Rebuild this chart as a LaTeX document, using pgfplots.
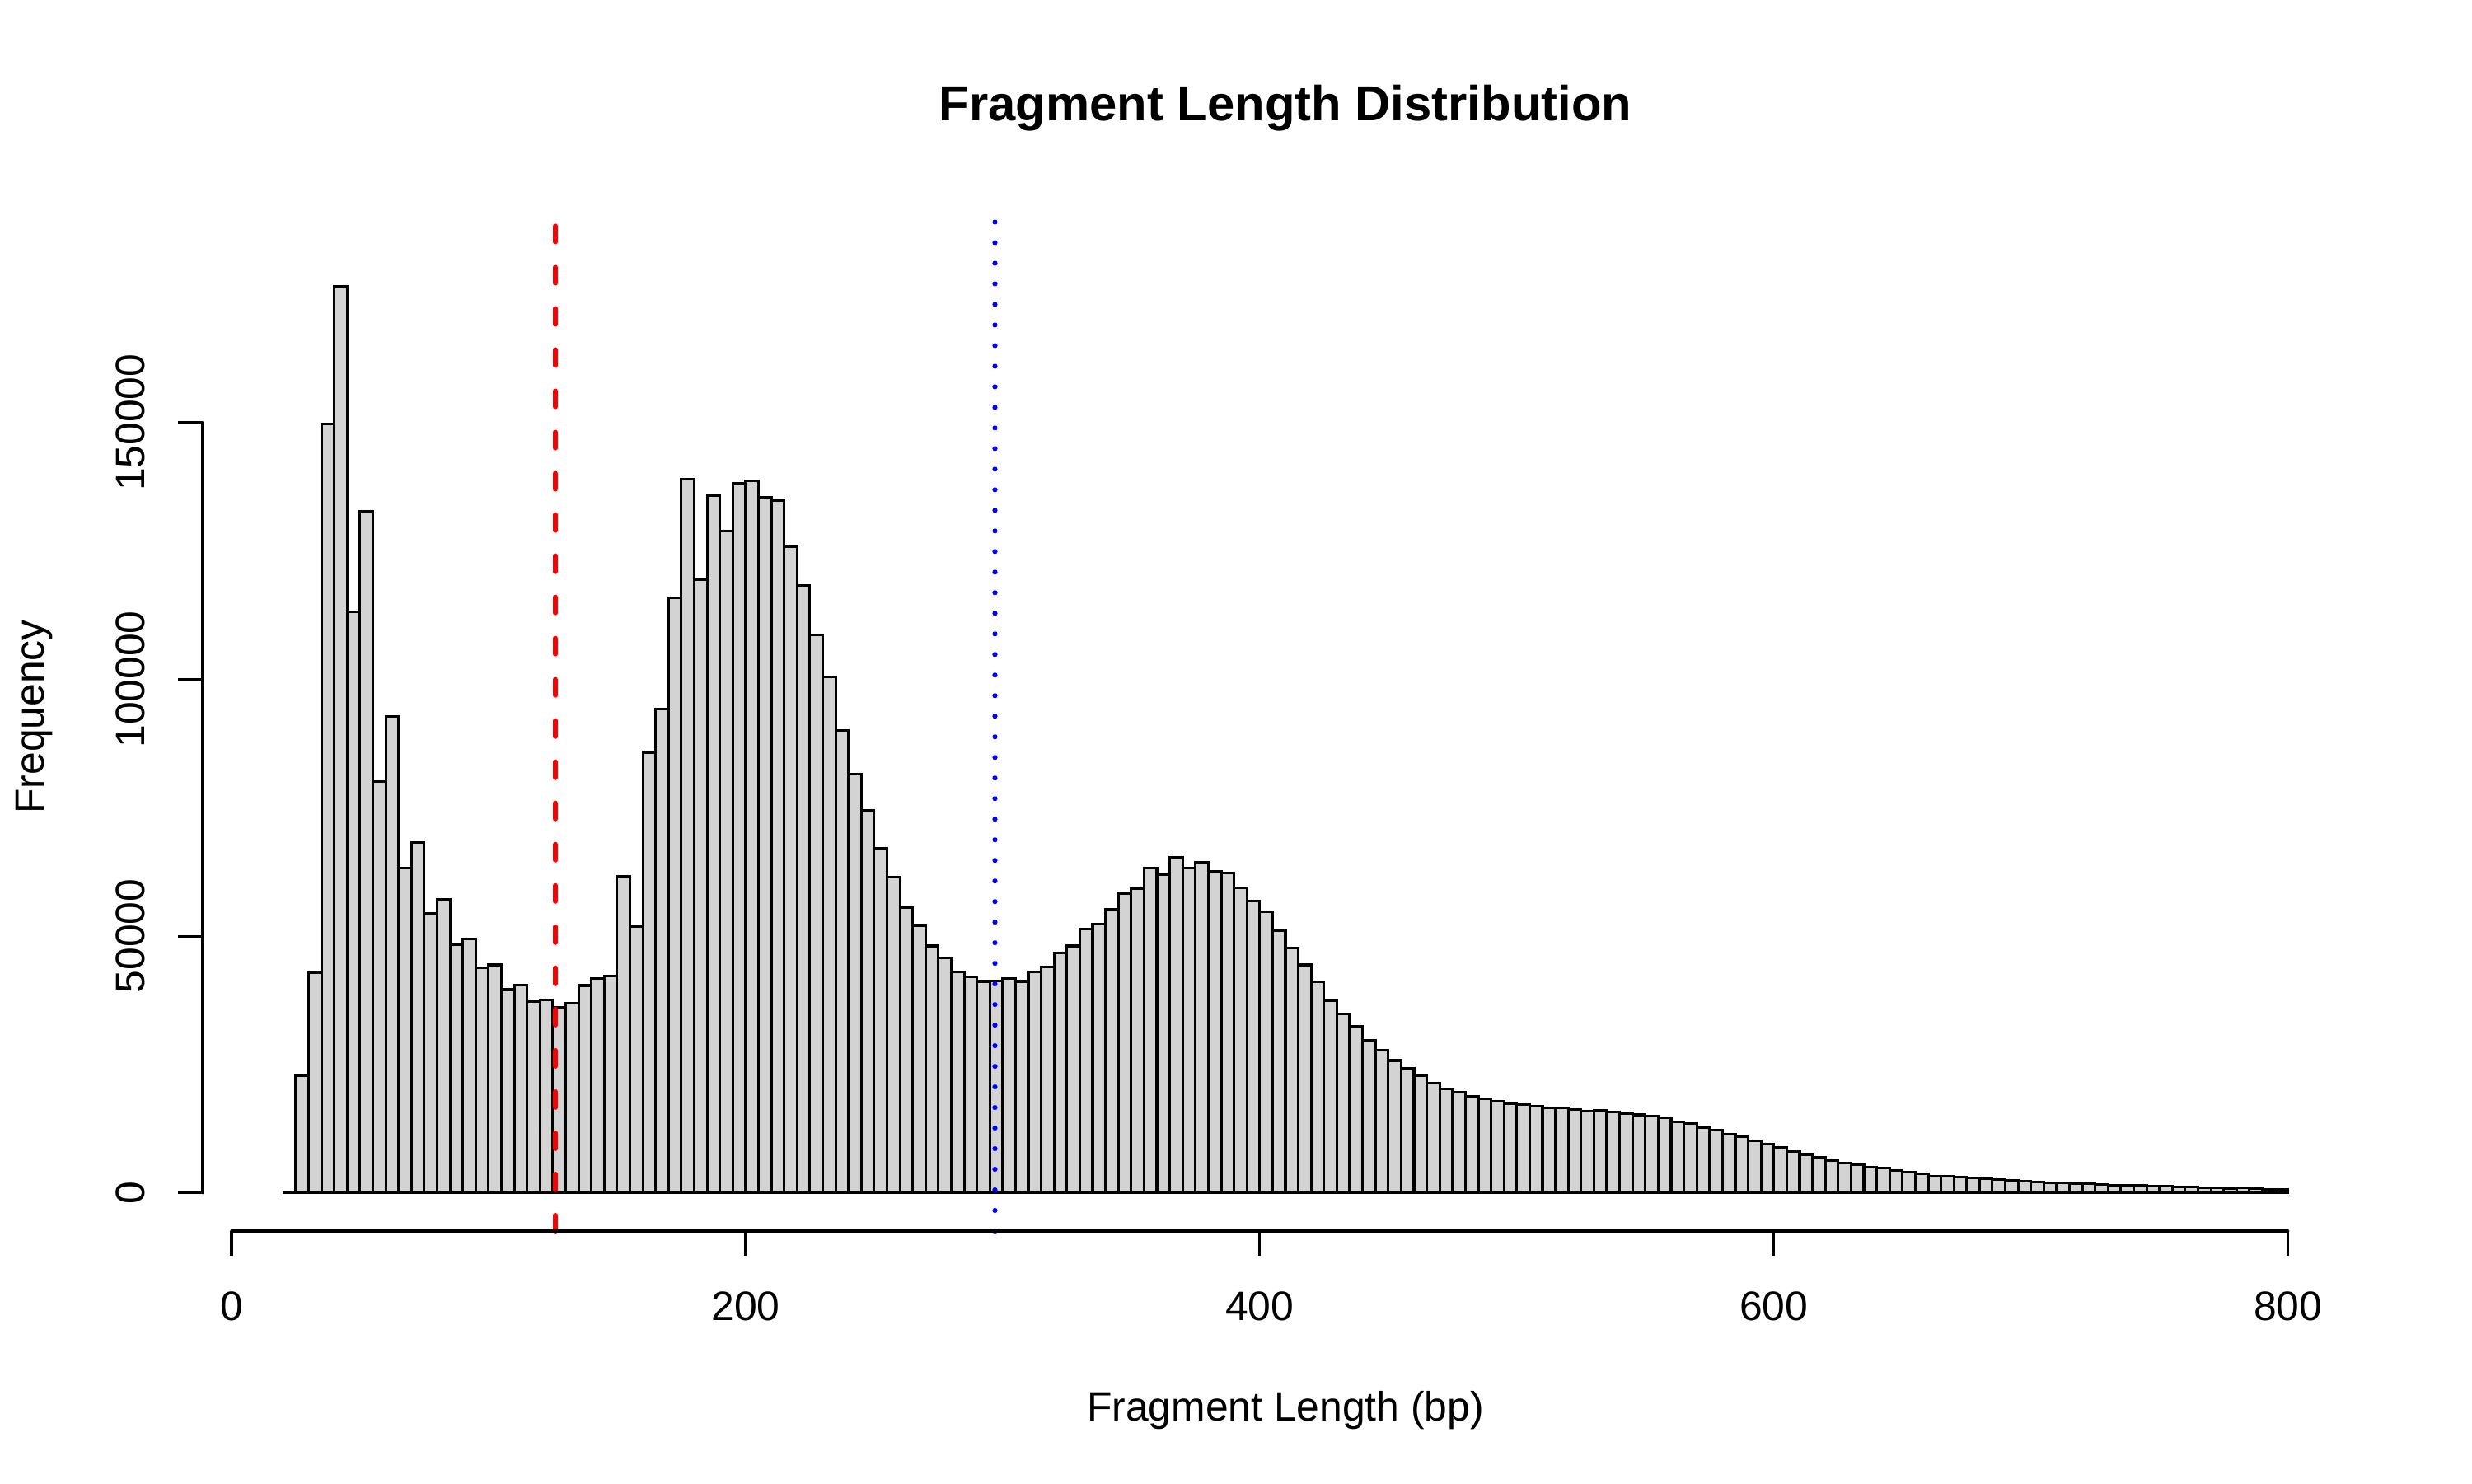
\documentclass[border=0pt]{standalone}
\usepackage{fontspec}
\setmainfont{Liberation Sans}
\usepackage{pgfplots}
\pgfplotsset{compat=1.18}
\usepackage{pgfplotstable}
\definecolor{histgray}{HTML}{D3D3D3}
\pgfplotstableread{
x y
20 0
25 22800
30 42900
35 149800
40 176600
45 113200
50 132700
55 80100
60 92800
65 63200
70 68200
75 54400
80 57100
85 48300
90 49400
95 43800
100 44400
105 39600
110 40500
115 37200
120 37600
125 36200
130 36900
135 40400
140 41800
145 42300
150 61700
155 51900
160 85800
165 94200
170 115900
175 139000
180 119400
185 135800
190 128900
195 138100
200 138700
205 135500
210 134800
215 125900
220 118300
225 108700
230 100500
235 90000
240 81600
245 74500
250 67100
255 61500
260 55500
265 52100
270 48100
275 45700
280 43000
285 42100
290 41200
295 41300
300 41800
305 41200
310 43000
315 44000
320 46800
325 48100
330 51400
335 52400
340 55200
345 58300
350 59200
355 63300
360 62000
365 65300
370 63200
375 64400
380 62600
385 62300
390 59400
395 56800
400 54800
405 51000
410 47700
415 44400
420 41100
425 37500
430 34900
435 32400
440 29700
445 27800
450 25800
455 24300
460 22800
465 21400
470 20200
475 19600
480 18800
485 18300
490 17900
495 17400
500 17200
505 16900
510 16600
515 16600
520 16200
525 15900
530 16000
535 15700
540 15500
545 15200
550 15000
555 14700
560 13800
565 13500
570 12700
575 12200
580 11400
585 11000
590 10200
595 9500
600 8800
605 8000
610 7500
615 7000
620 6300
625 5800
630 5500
635 5000
640 4900
645 4400
650 4100
655 3750
660 3300
665 3200
670 3060
675 2900
680 2840
685 2630
690 2470
695 2360
700 2140
705 2040
710 2040
715 1880
720 1770
725 1610
730 1500
735 1450
740 1450
745 1340
750 1290
755 1180
760 1130
765 1020
770 970
775 910
780 970
785 860
790 750
795 750
800 750
}\histdata
\begin{document}
\begin{tikzpicture}
\useasboundingbox (0,0) rectangle (10in,6in);
\begin{axis}[
  at={(0.82in,1.02in)}, anchor=south west,
  scale only axis, width=8.76in, height=4.16in,
  xmin=-11.2, xmax=831.2, ymin=-7416, ymax=192816,
  axis x line*=bottom, axis y line*=left,
  axis line style={draw=none},
  clip=false,
  xtick={0,200,400,600,800}, xticklabels={0,200,400,600,800},
  ytick={0,50000,100000,150000}, yticklabels={0,50000,100000,150000},
  scaled ticks=false,
  minor tick num=0,
  tick align=outside, major tick length=7.2pt,
  tick style={black, line width=0.75pt},
  /pgf/number format/assume math mode=true,
  tick label style={font=\fontsize{12}{14}\selectfont, inner sep=0pt},
  xticklabel style={anchor=base},
  yticklabel style={rotate=90, anchor=base},
  xticklabel shift=19pt, yticklabel shift=9.75pt,
  xlabel={Fragment Length (bp)}, ylabel={Frequency},
  xlabel style={at={(axis description cs:0.5,-0.1843)}, anchor=base, font=\fontsize{12}{14}\selectfont, inner sep=0pt},
  ylabel style={at={(axis description cs:-0.0734,0.5)}, anchor=base, font=\fontsize{12}{14}\selectfont, inner sep=0pt},
  title={Fragment Length Distribution},
  title style={at={(axis description cs:0.5,1.0597)}, anchor=base, yshift=0pt, font=\bfseries\fontsize{14.4}{17}\selectfont, inner sep=0pt},
]
\addplot[ybar interval, fill=histgray, draw=black, line width=0.75pt, mark=none, forget plot] table[x=x,y=y] {\histdata};
\addplot[red, line width=1.5pt, line cap=round, dash pattern=on 4.58pt off 7.47pt, mark=none, forget plot] coordinates {(126,-7416) (126,192816)};
\addplot[blue, line width=1.5pt, line cap=round, dash pattern=on 0pt off 6.02pt, mark=none, forget plot] coordinates {(297,-7416) (297,192816)};
\draw[black, line width=0.75pt, line cap=round] (axis cs:0,-7416) -- (axis cs:800,-7416);
\draw[black, line width=0.75pt, line cap=round] (axis cs:-11.2,0) -- (axis cs:-11.2,150000);
\end{axis}
\end{tikzpicture}
\end{document}
